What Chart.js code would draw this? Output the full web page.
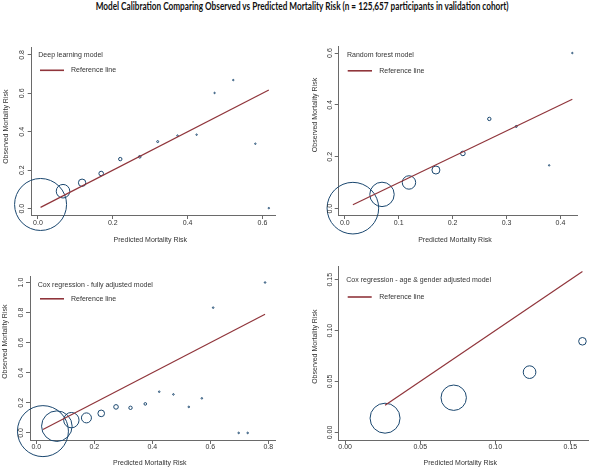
<!DOCTYPE html>
<html>
<head>
<meta charset="utf-8">
<script src="https://cdn.jsdelivr.net/npm/chart.js@4.4.1/dist/chart.umd.min.js"></script>
<style>
    html, body { margin: 0; padding: 0; background: #fff; }
    body { width: 604px; height: 472px; position: relative; overflow: hidden; }
    #title {
        position: absolute; left: 0; top: -0.5px; width: 604px;
        text-align: center; white-space: nowrap;
        font: bold 10.5px Lato, "Open Sans", sans-serif; line-height: 12px; color: #111;
    }
    #title span { display: inline-block; transform-origin: center; }
    canvas { position: absolute; }
</style>
</head>
<body>
<div id="title"><span>Model Calibration Comparing Observed vs Predicted Mortality Risk (n = 125,657 participants in validation cohort)</span></div>
<canvas id="c1" width="302" height="228" style="left:0;top:20px"></canvas>
<canvas id="c2" width="302" height="228" style="left:302px;top:20px"></canvas>
<canvas id="c3" width="302" height="222" style="left:0;top:250px"></canvas>
<canvas id="c4" width="302" height="222" style="left:302px;top:250px"></canvas>
<script>
"use strict";

// Deep learning model
const dlPredicted = [0.007, 0.067, 0.118, 0.169, 0.220, 0.272, 0.320, 0.373, 0.424, 0.472, 0.522, 0.581, 0.617];
const dlObserved = [0.022, 0.091, 0.135, 0.183, 0.258, 0.270, 0.349, 0.380, 0.385, 0.602, 0.669, 0.338, 0.003];
const dlBinSize = [676, 46, 13.7, 5.3, 2.9, 1.7, 1, 0.6, 0.5, 0.5, 0.5, 0.5, 0.5];
const dlXTicks = ["0.0", "0.2", "0.4", "0.6"];
const dlYTicks = ["0.0", "0.2", "0.4", "0.6", "0.8"];

// Random forest model
const rfPredicted = [0.015, 0.069, 0.119, 0.169, 0.219, 0.268, 0.318, 0.379, 0.422];
const rfObserved = [0.002, 0.055, 0.101, 0.149, 0.213, 0.346, 0.317, 0.167, 0.600];
const rfBinSize = [666, 149, 45, 16, 5.3, 2.9, 1, 0.5, 0.5];
const rfXTicks = ["0.0", "0.1", "0.2", "0.3", "0.4"];
const rfYTicks = ["0.0", "0.2", "0.4", "0.6"];

// Cox regression - fully adjusted
const coxPredicted = [0.023, 0.071, 0.121, 0.173, 0.224, 0.275, 0.325, 0.376, 0.424, 0.473, 0.526, 0.571, 0.610, 0.698, 0.729, 0.789];
const coxObserved = [0.012, 0.045, 0.085, 0.100, 0.130, 0.173, 0.167, 0.193, 0.274, 0.256, 0.173, 0.230, 0.833, 0.0, 0.0, 1.0];
const coxBinSize = [650, 234, 59, 25, 11, 5.3, 2.9, 1.7, 0.6, 0.6, 0.6, 0.6, 0.6, 0.6, 0.6, 0.6];
const coxXTicks = ["0.0", "0.2", "0.4", "0.6", "0.8"];
const coxYTicks = ["0.0", "0.2", "0.4", "0.6", "0.8", "1.0"];

// Cox regression - age & gender adjusted
const ageSexPredicted = [0.0266, 0.0723, 0.1228, 0.158];
const ageSexObserved = [0.0140, 0.0341, 0.0592, 0.0895];
const ageSexBinSize = [225, 161, 40, 14.4];
const ageSexXTicks = ["0.00", "0.05", "0.10", "0.15"];
const ageSexYTicks = ["0.00", "0.05", "0.10", "0.15"];

const X_TITLE = "Predicted Mortality Risk";
const Y_TITLE = "Observed Mortality Risk";
const REF_LABEL = "Reference line";

const NAVY = "#1a476f";
const MAROON = "#90353b";
const AXIS = "#6a6a6a";
const TEXT = "#333";
const FONT = "7px 'Liberation Sans', Arial, sans-serif";

const panels = [
    {
        id: "c1", name: "Deep learning model",
        predicted: dlPredicted, observed: dlObserved, binSize: dlBinSize,
        xTicks: dlXTicks, yTicks: dlYTicks,
        xRange: [-0.0167, 0.6335], yRange: [-0.0327, 0.841],
        area: { left: 31.7, top: 16.7, right: 291.7, bottom: 195 },
        yTickX: 21.7, yTitle: [6, 106.7], xTickY: 203.3, xTitleY: 220,
        legend: { title: [6.6, 8.3], line: [8.3, 32.3, 23.3], text: 39.3 }
    },
    {
        id: "c2", name: "Random forest model",
        predicted: rfPredicted, observed: rfObserved, binSize: rfBinSize,
        xTicks: rfXTicks, yTicks: rfYTicks,
        xRange: [-0.0113, 0.431], yRange: [-0.0244, 0.624],
        area: { left: 36.7, top: 16.7, right: 296.7, bottom: 195 },
        yTickX: 28.3, yTitle: [13.3, 95], xTickY: 203.3, xTitleY: 220,
        legend: { title: [8.3, 8.3], line: [9, 33.3, 24], text: 40.6 }
    },
    {
        id: "c3", name: "Cox regression - fully adjusted model",
        predicted: coxPredicted, observed: coxObserved, binSize: coxBinSize,
        xTicks: coxXTicks, yTicks: coxYTicks,
        xRange: [-0.0216, 0.825], yRange: [-0.047, 1.04],
        area: { left: 30, top: 11.7, right: 291.7, bottom: 190 },
        yTickX: 21, yTitle: [5, 91.7], xTickY: 197.3, xTitleY: 213.3,
        legend: { title: [7.7, 9], line: [10, 34, 22.3], text: 41 }
    },
    {
        id: "c4", name: "Cox regression - age & gender adjusted model",
        predicted: ageSexPredicted, observed: ageSexObserved, binSize: ageSexBinSize,
        xTicks: ageSexXTicks, yTicks: ageSexYTicks,
        xRange: [-0.00426, 0.1617], yRange: [-0.0074, 0.1634],
        area: { left: 36.7, top: 11.7, right: 296.7, bottom: 190 },
        yTickX: 28.3, yTitle: [13.3, 96.7], xTickY: 197.3, xTitleY: 213.3,
        legend: { title: [7.6, 14], line: [9, 33, 31], text: 40.6 }
    }
];

// Draws the Stata-like labels: rotated y ticks, axis titles and the inner legend
const panelText = {
    id: "panelText",
    afterDraw(chart, args, opts) {
        const p = opts.panel;
        const { ctx, chartArea } = chart;
        const xs = chart.scales.x;
        const ys = chart.scales.y;
        ctx.save();
        ctx.font = FONT;
        ctx.fillStyle = TEXT;
        ctx.textAlign = "center";
        ctx.textBaseline = "middle";

        for (const label of p.xTicks) {
            ctx.fillText(label, xs.getPixelForValue(parseFloat(label)), p.xTickY);
        }
        for (const label of p.yTicks) {
            ctx.save();
            ctx.translate(p.yTickX, ys.getPixelForValue(parseFloat(label)));
            ctx.rotate(-Math.PI / 2);
            ctx.fillText(label, 0, 0);
            ctx.restore();
        }

        ctx.fillText(X_TITLE, (chartArea.left + chartArea.right) / 2 - 3, p.xTitleY);
        ctx.save();
        ctx.translate(p.yTitle[0], p.yTitle[1]);
        ctx.rotate(-Math.PI / 2);
        ctx.fillText(Y_TITLE, 0, 0);
        ctx.restore();

        // legend inside the plot region
        const lg = p.legend;
        ctx.textAlign = "left";
        ctx.fillText(p.name, chartArea.left + lg.title[0], chartArea.top + lg.title[1]);
        ctx.strokeStyle = MAROON;
        ctx.lineWidth = 1.6;
        ctx.beginPath();
        ctx.moveTo(chartArea.left + lg.line[0], chartArea.top + lg.line[2]);
        ctx.lineTo(chartArea.left + lg.line[1], chartArea.top + lg.line[2]);
        ctx.stroke();
        ctx.fillText(REF_LABEL, chartArea.left + lg.text, chartArea.top + lg.line[2]);
        ctx.restore();
    }
};

function axisOptions(range, ticks, fit) {
    return {
        type: "linear",
        min: range[0],
        max: range[1],
        afterBuildTicks: (scale) => {
            scale.ticks = ticks.map((t) => ({ value: parseFloat(t) }));
        },
        afterFit: fit,
        ticks: { display: false },
        grid: {
            display: true,
            drawOnChartArea: false,
            drawTicks: true,
            tickLength: 4,
            color: AXIS,
            lineWidth: 1
        },
        border: { display: true, color: AXIS, width: 1 }
    };
}

function buildChart(p) {
    const canvas = document.getElementById(p.id);
    const h = canvas.height;
    const w = canvas.width;

    const bubbles = p.predicted.map((x, i) => ({ x, y: p.observed[i], r: Math.sqrt(p.binSize[i]) }));
    const lo = Math.min(...p.predicted);
    const hi = Math.max(...p.predicted);

    new Chart(canvas, {
        type: "bubble",
        data: {
            datasets: [
                {
                    type: "bubble",
                    label: p.name,
                    data: bubbles,
                    backgroundColor: "rgba(0,0,0,0)",
                    borderColor: NAVY,
                    borderWidth: 1,
                    hoverRadius: 0,
                    clip: false,
                    order: 2
                },
                {
                    type: "line",
                    label: REF_LABEL,
                    data: [{ x: lo, y: lo }, { x: hi, y: hi }],
                    borderColor: MAROON,
                    borderWidth: 1.2,
                    pointRadius: 0,
                    fill: false,
                    clip: false,
                    order: 1
                }
            ]
        },
        options: {
            responsive: false,
            animation: false,
            events: [],
            layout: {
                padding: { left: 0, top: p.area.top, right: w - p.area.right, bottom: 0 }
            },
            scales: {
                x: axisOptions(p.xRange, p.xTicks, (s) => { s.height = h - p.area.bottom; }),
                y: axisOptions(p.yRange, p.yTicks, (s) => { s.width = p.area.left; })
            },
            plugins: {
                legend: { display: false },
                tooltip: { enabled: false },
                panelText: { panel: p }
            }
        },
        plugins: [panelText]
    });
}

for (const p of panels) {
    buildChart(p);
}

// squeeze the title to the Calibri-like width of the original
const span = document.querySelector("#title span");
const target = 413;
span.style.transform = `scaleX(${target / span.getBoundingClientRect().width})`;
</script>
</body>
</html>
